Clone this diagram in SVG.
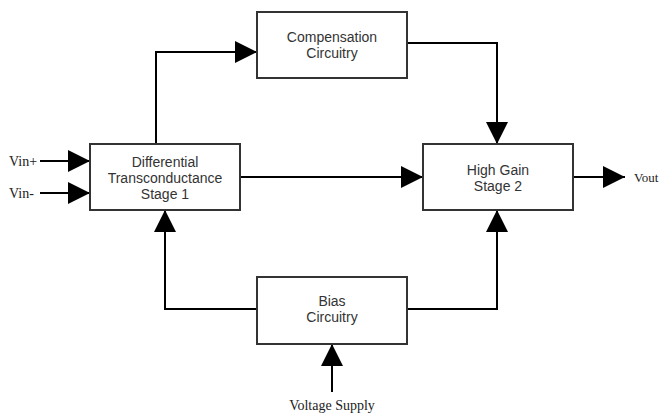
<svg xmlns="http://www.w3.org/2000/svg" width="660" height="414" viewBox="0 0 660 414">
<style>
.box{fill:#fff;stroke:#333;stroke-width:2}
.lbl{font-family:"Liberation Sans",Arial,sans-serif;font-size:14px;fill:#333;text-anchor:middle}
.pin{font-family:"Liberation Serif","Times New Roman",serif;font-size:14px;fill:#222}
.wire{fill:none;stroke:#000;stroke-width:2}
</style>
<defs>
<marker id="ah" markerUnits="userSpaceOnUse" markerWidth="24" markerHeight="24" refX="22" refY="12" orient="auto" viewBox="0 0 24 24">
<path d="M0,1 L22,12 L0,23 Z" fill="#000"/>
</marker>
</defs>
<rect width="660" height="414" fill="#fff"/>
<g id="connectors">
<path class="wire" d="M40,161 H90" marker-end="url(#ah)"/>
<path class="wire" d="M40,193 H90" marker-end="url(#ah)"/>
<path class="wire" d="M156,144 V52 H257" marker-end="url(#ah)"/>
<path class="wire" d="M407,43 H497 V144" marker-end="url(#ah)"/>
<path class="wire" d="M240,177 H423" marker-end="url(#ah)"/>
<path class="wire" d="M573,177 H625" marker-end="url(#ah)"/>
<path class="wire" d="M257,309 H165 V210" marker-end="url(#ah)"/>
<path class="wire" d="M407,309 H497 V210" marker-end="url(#ah)"/>
<path class="wire" d="M332,392 V344" marker-end="url(#ah)"/>
</g>
<g id="diff">
<rect class="box" x="90" y="144" width="150" height="66"/>
<text class="lbl" x="165" y="167">Differential</text>
<text class="lbl" x="165" y="183">Transconductance</text>
<text class="lbl" x="165" y="199">Stage 1</text>
</g>
<g id="comp">
<rect class="box" x="257" y="12" width="150" height="66"/>
<text class="lbl" x="332" y="42">Compensation</text>
<text class="lbl" x="332" y="58">Circuitry</text>
</g>
<g id="gain">
<rect class="box" x="423" y="144" width="150" height="66"/>
<text class="lbl" x="498" y="175">High Gain</text>
<text class="lbl" x="498" y="191">Stage 2</text>
</g>
<g id="bias">
<rect class="box" x="257" y="277" width="150" height="67"/>
<text class="lbl" x="332" y="306">Bias</text>
<text class="lbl" x="332" y="322">Circuitry</text>
</g>
<g id="labels">
<text class="pin" x="9" y="166">Vin+</text>
<text class="pin" x="9" y="198">Vin-</text>
<text class="pin" x="634" y="182" style="font-size:13px">Vout</text>
<text class="pin" x="332" y="410" text-anchor="middle">Voltage Supply</text>
</g>
</svg>
